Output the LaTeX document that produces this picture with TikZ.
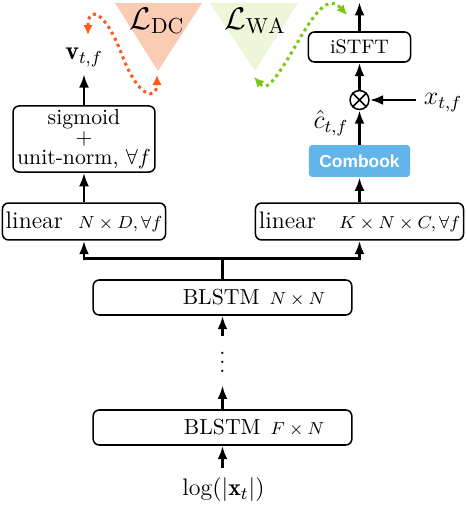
\documentclass[tikz,border=0pt]{standalone}
\usepackage{fontspec}
\newfontfamily\cbfont{Liberation Sans}
\usetikzlibrary{positioning,arrows.meta}

\definecolor{dcorange}{RGB}{255,90,30}
\definecolor{dcfill}{RGB}{250,204,180}
\definecolor{wagreen}{RGB}{120,200,20}
\definecolor{wafill}{RGB}{238,246,218}
\definecolor{cbblue}{RGB}{98,180,235}

\begin{document}
\begin{tikzpicture}[x=0.46pt, y=-0.46pt,
    layer/.style={draw, rounded corners=2.8pt, line width=0.7pt, inner sep=0pt},
    arr/.style={line width=1.3pt, -{Latex[length=6.2pt,width=4.6pt]}},
    loss/.style={line width=1.4pt, dash pattern=on 1.4pt off 1.7pt,
        {Latex[length=4.6pt,width=4.4pt]}-{Latex[length=4.6pt,width=4.4pt]}}]
    \useasboundingbox (0,0) rectangle (467,505);

    % Loss triangles
    \fill[dcfill] (115,3) -- (202,3) -- (158,71) -- cycle;
    \fill[wafill] (210,3) -- (298,3) -- (255,71) -- cycle;
    \node[inner sep=0pt] (ldc) at (157,21) {\Large $\mathcal{L}_{\mathrm{DC}}$};
    \node[inner sep=0pt] (lwa) at (255,21) {\Large $\mathcal{L}_{\mathrm{WA}}$};

    % Shared BLSTM stack
    \node[layer, minimum width=119pt, minimum height=16.1pt] (blstm1) at (222.5,427.5) {};
    \node (blstm1txt) at (254,427.5) {BLSTM\hspace{4.6pt}\footnotesize$F\times N$};
    \node[layer, minimum width=119pt, minimum height=16.1pt] (blstm2) at (222.5,297.5) {};
    \node (blstm2txt) at (254,297.5) {BLSTM\hspace{4.6pt}\footnotesize$N\times N$};
    \node[inner sep=0pt] (dots) at (222.5,356) {$\vdots$};
    \node (logx) at (223.5,490) {\fontsize{11}{13}\selectfont $\log(|\mathbf{x}_t|)$};

    \draw[arr, shorten <=1pt] (logx.north -| blstm1.south) -- (blstm1.south);
    \draw[arr, shorten >=5.8pt] (blstm1.north) -- (dots.south);
    \draw[arr, shorten <=1.5pt] (dots.north) -- (blstm2.south);

    % Left branch: embeddings
    \node[layer, minimum width=75pt, minimum height=17pt] (linL) at (84,221.5)
        {\fontsize{11}{13}\selectfont linear\hspace{7pt}\footnotesize$N\times D,\forall f$};
    \node[layer, minimum width=65.3pt, minimum height=30.4pt, align=center,
        font=\fontsize{10}{9.4}\selectfont] (sig) at (84,139)
        {sigmoid\\$+$\\unit-norm, $\forall f$};
    \node (vtf) at (84,57) {\large $\mathbf{v}_{t,f}$};

    % Right branch: codebook mask
    \node[layer, minimum width=95.7pt, minimum height=17pt] (linR) at (359.5,221.5)
        {\fontsize{11}{13}\selectfont linear\hspace{10.6pt}\footnotesize$K\times N\times C,\forall f$};
    \node[fill=cbblue, rounded corners=1.5pt, minimum width=46.5pt, minimum height=14.7pt,
        text=white, font=\cbfont\bfseries\fontsize{8}{10}\selectfont] (combook) at (359.5,161) {Combook};
    \node[draw, circle, line width=0.7pt, minimum size=8.7pt, inner sep=0pt] (mul) at (359.5,100) {};
    \draw[line width=0.7pt] (mul.north west) -- (mul.south east) (mul.north east) -- (mul.south west);
    \node[layer, minimum width=47pt, minimum height=13.8pt] (istft) at (359.5,47)
        {\fontsize{9}{11}\selectfont iSTFT};
    \node (chat) at (331,123) {\large $\hat{c}_{t,f}$};
    \node (xtf) at (443,103) {\large $x_{t,f}$};
    \coordinate (out) at (359.5,2);

    % Split after the BLSTMs
    \draw[line width=1.3pt] (blstm2.north) -- ++(0,-21) coordinate (split);
    \draw[arr] (split) -| (linL.south);
    \draw[arr] (split) -| (linR.south);

    \draw[arr] (linL) -- (sig);
    \draw[arr] (sig) -- (vtf);
    \draw[arr] (linR) -- (combook);
    \draw[arr] (combook) -- (mul);
    \draw[arr] (xtf.west |- mul.east) -- (mul.east);
    \draw[arr] (mul) -- (istft);
    \draw[arr] (istft) -- (out);

    % Loss feedback
    \coordinate (vtop) at (88,35);
    \coordinate (dctip) at (157,75);
    \coordinate (watip) at (254,77);
    \coordinate (outtip) at (347,15);
    \draw[loss, dcorange] (vtop) .. controls (88,5) and (105,10) .. (122,55)
        .. controls (139,100) and (157,100) .. (dctip);
    \draw[loss, wagreen] (watip) .. controls (265,89) and (270,90) .. (296,45)
        .. controls (315,12) and (328,-6) .. (outtip);
\end{tikzpicture}
\end{document}
